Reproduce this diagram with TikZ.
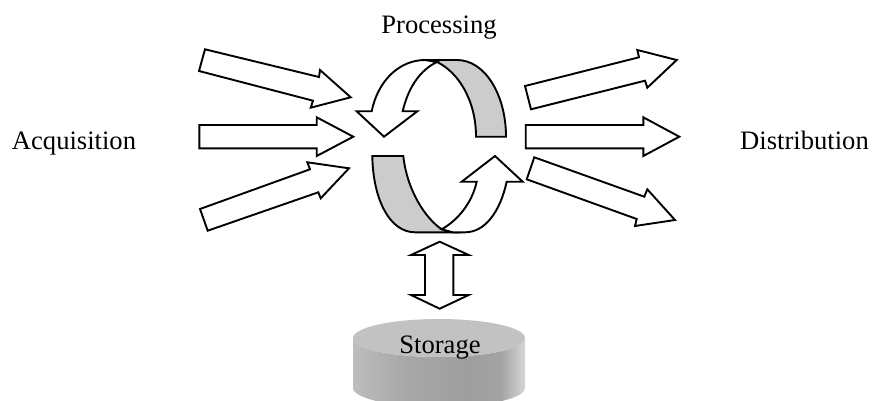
\documentclass[tikz,border=0pt]{standalone}
\usepackage{fontspec}
\setmainfont{Liberation Serif}
\usepackage{tikz}

\definecolor{ribbon}{gray}{0.8}
\definecolor{disktop}{gray}{0.76}
\pgfdeclarehorizontalshading{diskside}{100bp}{
  color(0bp)=(black!26); color(25bp)=(black!26); color(40bp)=(black!34);
  color(58bp)=(black!38); color(68bp)=(black!36); color(75bp)=(black!16);
  color(100bp)=(black!16)}

\begin{document}
\begin{tikzpicture}[x=0.5pt,y=-0.5pt,
    blockarrow/.style ={draw, fill=white, line width=0.95pt, line join=miter},
    ribbonpart/.style ={draw, fill=ribbon, line width=0.95pt},
    caption/.style ={font=\fontsize{13.3}{16}\selectfont, anchor=base, inner sep=0pt}]
   \clip (0,0) rectangle (872,401);

   % incoming arrows
   \draw[blockarrow] (205,49.3) -- (319,77) -- (320,70) -- (350.7,97.3) -- (310.7,107.7) -- (313,100.7) -- (199,71) -- cycle;
   \draw[blockarrow] (199.3,125) -- (316.7,125) -- (316.7,117.3) -- (353.3,136.7) -- (316.7,156) -- (316.7,148.3) -- (199.3,148.3) -- cycle;
   \draw[blockarrow] (200,209) -- (310,169.3) -- (307.3,162.3) -- (349,168.3) -- (320.7,198.3) -- (318.3,192.3) -- (207.7,230.7) -- cycle;

   % outgoing arrows
   \draw[blockarrow] (525,86) -- (639,57.3) -- (637.3,50) -- (676.7,60) -- (647.3,87.7) -- (645,80.7) -- (531,109.3) -- cycle;
   \draw[blockarrow] (525.7,125) -- (643.3,125) -- (643.3,117.3) -- (679.3,136.7) -- (643.3,156) -- (643.3,148.3) -- (525.7,148.3) -- cycle;
   \draw[blockarrow] (534.3,157.3) -- (644.3,196.7) -- (647.3,189.3) -- (675,220) -- (635,226) -- (636.7,219) -- (526.7,179.3) -- cycle;

   % upper half of the cycle
   \draw[ribbonpart] (437,62) -- (425,60) -- (457,60) .. controls (485,60) and (506,95) .. (506,136.7)
      -- (476,136.7) .. controls (476,100) and (458,72) .. (437,62) -- cycle;
   \draw[blockarrow] (356.7,111.3) -- (371.7,111.3) .. controls (378,80) and (400,60) .. (425,60) -- (437,62)
      .. controls (420,70) and (408,88) .. (402.7,111.3) -- (417.3,111.3) -- (384,136.7) -- cycle;

   % lower half of the cycle
   \draw[ribbonpart] (372.3,156) -- (403.3,156) .. controls (407,190) and (425,218) .. (441.7,229.3)
      -- (453,232.3) -- (415,232.3) .. controls (390,232.3) and (373,200) .. (372.3,156) -- cycle;
   \draw[blockarrow] (461.7,181.7) -- (495,156) -- (522.7,181.7) -- (506.7,181.7)
      .. controls (500,212) and (485,232.3) .. (465,232.3) -- (453,232.3) -- (441.7,229.3)
      .. controls (458,220) and (472,203) .. (476.7,181.7) -- cycle;

   % double arrow to the disk
   \draw[blockarrow] (439.7,241.7) -- (468.7,255) -- (453.3,255) -- (453.3,295) -- (468.7,295) -- (439.7,308.7)
      -- (411,295) -- (425,295) -- (425,255) -- (411,255) -- cycle;

   % disk
   \shade[shading=diskside] (353,338) -- (353,388) arc[start angle=180, end angle=360, x radius=86, y radius=-19]
      -- (525,338) arc[start angle=0, end angle=180, x radius=86, y radius=19] -- cycle;
   \fill[disktop] (439,338) ellipse [x radius=86, y radius=19];

   \node[caption] (acquisition) at (74,149) {Acquisition};
   \node[caption] (processing) at (439,33.5) {Processing};
   \node[caption] (distribution) at (804.5,149) {Distribution};
   \node[caption] (storage) at (440,353) {Storage};
\end{tikzpicture}
\end{document}
